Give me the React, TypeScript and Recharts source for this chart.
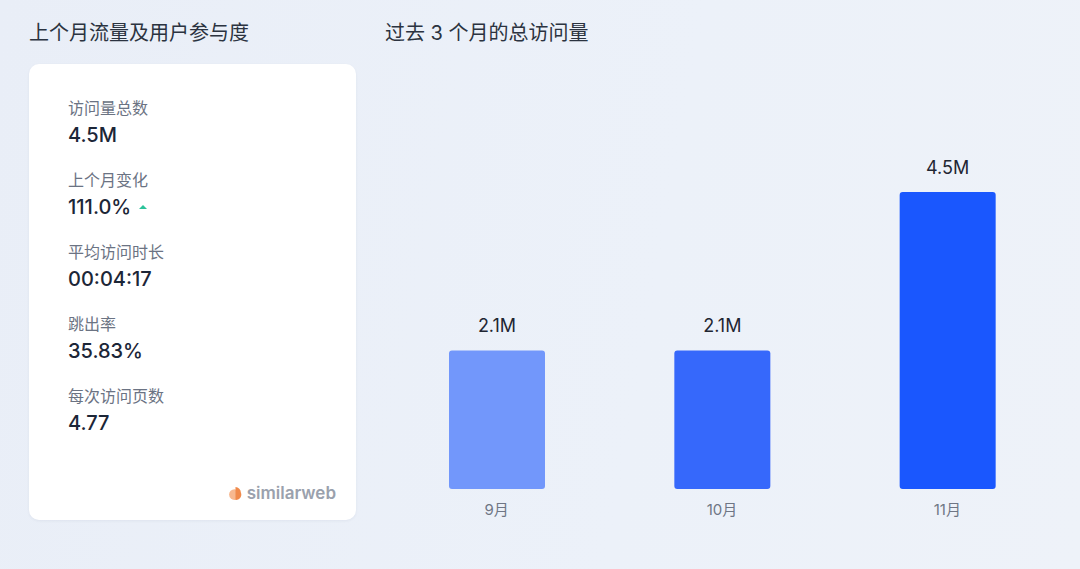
import React from 'react';
import { BarChart, Bar, XAxis, YAxis, Cell, LabelList } from 'recharts';

const months = ['9月', '10月', '11月'];
const visits = [2.1, 2.1, 4.5];
const barColors = ['#7297fb', '#3668fb', '#1a57fe'];

const metricLabels = ['访问量总数', '上个月变化', '平均访问时长', '跳出率', '每次访问页数'];
const metricValues = ['4.5M', '111.0%', '00:04:17', '35.83%', '4.77'];

const data = months.map((m, i) => ({ month: m, visits: visits[i] }));

const font = "Inter, 'Noto Sans CJK SC', sans-serif";

const App: React.FC = () => {
  return (
    <div
      style={{
        position: 'fixed',
        left: 0,
        top: 0,
        width: 1080,
        height: 569,
        background: 'linear-gradient(100deg, #e9eef7 0%, #ecf1f9 60%, #eef2f9 100%)',
        fontFamily: font,
        overflow: 'hidden',
      }}
    >
      <div style={{ position: 'absolute', left: 29, top: 17, fontSize: 20, color: '#2b3340' }}>
        上个月流量及用户参与度
      </div>
      <div style={{ position: 'absolute', left: 385, top: 17, fontSize: 20, color: '#2b3340' }}>
        过去 3 个月的总访问量
      </div>

      {/* metrics card */}
      <div
        style={{
          position: 'absolute',
          left: 29,
          top: 64,
          width: 327,
          height: 456,
          background: '#ffffff',
          borderRadius: 10,
          boxShadow: '0 1px 3px rgba(30, 50, 90, 0.06)',
        }}
      >
        {metricLabels.map((label, i) => (
          <div key={label} style={{ position: 'absolute', left: 39, top: 32 + i * 72 }}>
            <div style={{ fontSize: 16, color: '#6b7383', lineHeight: '24px' }}>{label}</div>
            <div
              style={{
                fontSize: 20,
                color: '#1c2637',
                lineHeight: '30px',
                fontWeight: 500,
                display: 'flex',
                alignItems: 'center',
              }}
            >
              {metricValues[i]}
              {i === 1 && (
                <span
                  style={{
                    display: 'inline-block',
                    marginLeft: 8,
                    width: 0,
                    height: 0,
                    borderLeft: '4px solid transparent',
                    borderRight: '4px solid transparent',
                    borderBottom: '4px solid #2cc39a',
                  }}
                />
              )}
            </div>
          </div>
        ))}
        <div
          style={{
            position: 'absolute',
            right: 20,
            bottom: 17,
            display: 'flex',
            alignItems: 'center',
            fontSize: 17,
            fontWeight: 600,
            color: '#9aa1ad',
          }}
        >
          <svg width="13" height="15" viewBox="0 0 12 14" style={{ marginRight: 5 }}>
            <circle cx="5" cy="8" r="5" fill="#f7b88f" />
            <path d="M6 1 A5 5 0 0 1 11 6 A5 5 0 0 1 6 13" fill="#f08a4b" />
          </svg>
          similarweb
        </div>
      </div>

      {/* bar chart */}
      <div style={{ position: 'absolute', left: 384, top: 130 }}>
        <BarChart width={676} height={402} data={data} margin={{ top: 62, right: 0, bottom: 0, left: 0 }}>
          <XAxis
            dataKey="month"
            axisLine={false}
            tickLine={false}
            tickSize={0}
            tickMargin={15}
            height={43}
            tick={{ fontSize: 15, fill: '#6f7685', fontFamily: font }}
          />
          <YAxis hide domain={[0, 4.5]} />
          <Bar dataKey="visits" barSize={96} radius={3} isAnimationActive={false}>
            {data.map((d, i) => (
              <Cell key={d.month} fill={barColors[i]} />
            ))}
            <LabelList
              dataKey="visits"
              position="top"
              offset={18}
              formatter={(v: number) => `${v}M`}
              style={{ fontSize: 18, fill: '#1f2633', fontFamily: font }}
            />
          </Bar>
        </BarChart>
      </div>
    </div>
  );
};

export default App;
